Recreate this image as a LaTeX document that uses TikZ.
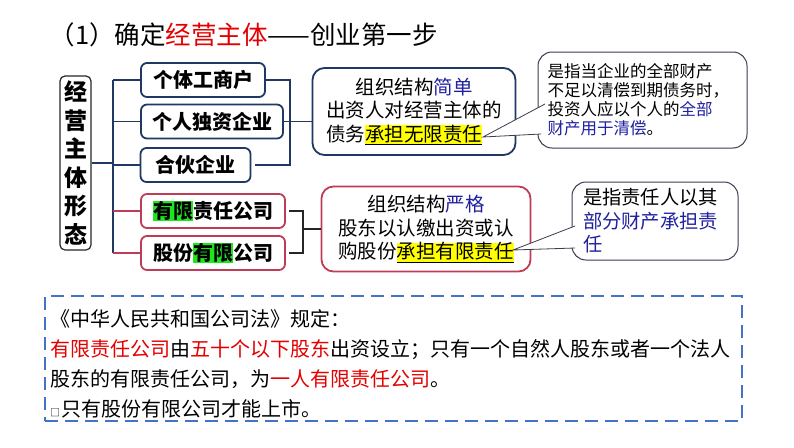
\documentclass[tikz,border=0pt]{standalone}
\usepackage{fontspec}
\setmainfont{Noto Sans CJK SC}
\definecolor{navyc}{RGB}{32,56,100}
\definecolor{crim}{RGB}{190,60,85}
\definecolor{bluetxt}{RGB}{32,32,160}
\definecolor{redtxt}{RGB}{228,0,0}
\definecolor{dashc}{RGB}{68,114,196}
\definecolor{callc}{RGB}{60,60,80}
\definecolor{hlyellow}{RGB}{255,255,0}
\definecolor{hlgreen}{RGB}{30,230,30}
\newcommand\fs[2]{\fontsize{#1}{#2}\selectfont}
\newcommand\hlyel[1]{{\setlength\fboxsep{0pt}\colorbox{hlyellow}{\underline{#1}}}}
\newcommand\hlgrn[1]{{\setlength\fboxsep{0pt}\colorbox{hlgreen}{#1}}}

\begin{document}
\begin{tikzpicture}[x=1pt,y=-1pt,
  typebox/.style={draw=navyc,line width=1.8pt,rounded corners=6pt,inner sep=0pt,minimum height=34pt,font=\fs{20}{24}\bfseries},
  ltdbox/.style={typebox,draw=crim},
  descbox/.style={draw=navyc,line width=1.8pt,rounded corners=12pt,inner sep=0pt,font=\fs{19.5}{23.5}},
  callbox/.style={draw=callc,line width=1pt,rounded corners=14pt,inner sep=0pt,align=left,fill=white},
  pointer/.style={draw=callc,line width=0.8pt,fill=white},
  tree/.style={draw=navyc,line width=1.5pt},
  redtree/.style={draw=crim,line width=1.5pt},
  brk/.style={draw=black!85,line width=1.5pt}]

\fill[white] (0,0) rectangle (794,447);
\useasboundingbox (0,0) rectangle (794,447);

\node[anchor=west,font=\fs{25.5}{30}] (title) at (46,35) {（1）确定\textcolor{redtxt}{经营主体}——创业第一步};

\node[draw=black!85,line width=1.2pt,rounded corners=5pt,inner sep=0pt,minimum width=31,minimum height=174,align=center,font=\fs{23}{28.5}\bfseries] (kind) at (75.5,163) {经\\营\\主\\体\\形\\态};

\node[typebox,minimum width=124] (gt) at (203,80) {个体工商户};
\node[typebox,minimum width=142] (gr) at (212,121.5) {个人独资企业};
\node[typebox,minimum width=110] (hh) at (195.5,165) {合伙企业};
\node[ltdbox,minimum width=144] (yx) at (213,211) {\hlgrn{有限}责任公司};
\node[ltdbox,minimum width=144] (gf) at (213,253) {股份\hlgrn{有限}公司};

\coordinate (trunk) at (113,0);
\draw[tree] (kind.east) -- (kind.east -| trunk);
\draw[tree] (gt.west -| trunk) -- (gf.west -| trunk);
\draw[tree] (gt.west -| trunk) -- (gt.west);
\draw[tree] (gr.west -| trunk) -- (gr.west);
\draw[tree] (hh.west -| trunk) -- (hh.west);
\draw[redtree] (yx.west -| trunk) -- (yx.west);
\draw[redtree] (gf.west -| trunk) -- (gf.west);

\node[descbox,minimum width=203,minimum height=87,align=left] (desc1) at (414,111.5) {\hspace*{1.5em}组织结构\textcolor{bluetxt}{简单}\\出资人对经营主体的\\债务\hlyel{承担无限责任}};
\node[descbox,draw=crim,minimum width=209,minimum height=85,align=center] (desc2) at (426,229) {组织结构\textcolor{bluetxt}{严格}\\股东以认缴出资或认\\购股份\hlyel{承担有限责任}};

\coordinate (brk1) at (290,0);
\draw[tree] (gt.east) -- (gt.east -| brk1) -- (hh.east -| brk1) -- ([xshift=4pt]hh.east);
\draw[tree] (gr.east) -- (gr.east -| desc1.west);

\coordinate (brk2) at (303,0);
\draw[brk] ([xshift=3pt]yx.east) -- (yx.east -| brk2) -- (gf.east -| brk2) -- ([xshift=3pt]gf.east);
\draw[brk] (desc2.west -| brk2) -- (desc2.west);

\node[callbox,minimum width=209,minimum height=96,text width=190,font=\fs{16.5}{19}] (call1) at (642.5,100) {是指当企业的全部财产\\不足以清偿到期债务时，\\投资人应以个人的\textcolor{bluetxt}{全部}\\\textcolor{bluetxt}{财产用于清偿}。};
\node[callbox,minimum width=166,minimum height=78,text width=144,font=\fs{19.3}{23.5}] (call2) at (655,221) {是指责任人以其\\\textcolor{bluetxt}{部分财产承担责}\\\textcolor{bluetxt}{任}};

\coordinate (tip1) at (483,137);
\coordinate (c1a) at (545,104);
\coordinate (c1b) at (541,134);
\filldraw[pointer] (c1a) -- (tip1) -- (c1b);
\coordinate (tip2) at (513,250);
\coordinate (c2a) at (575,226);
\coordinate (c2b) at (575,248);
\filldraw[pointer] (c2a) -- (tip2) -- (c2b);

\node[draw=dashc,line width=2pt,dash pattern=on 13pt off 7pt,minimum width=697,minimum height=125,inner sep=0pt] (lawbox) at (393.5,358.5) {};
\node[anchor=west,align=left,inner sep=0pt,font=\fs{20}{30}] (law) at (50,363.5) {《中华人民共和国公司法》规定：\\\textcolor{redtxt}{有限责任公司}由\textcolor{redtxt}{五十个以下股东}出资设立；只有一个自然人股东或者一个法人\\股东的有限责任公司，为\textcolor{redtxt}{一人有限责任公司}。\\\makebox[11pt][l]{\fs{10}{10}□}只有股份有限公司才能上市。};
\end{tikzpicture}
\end{document}
